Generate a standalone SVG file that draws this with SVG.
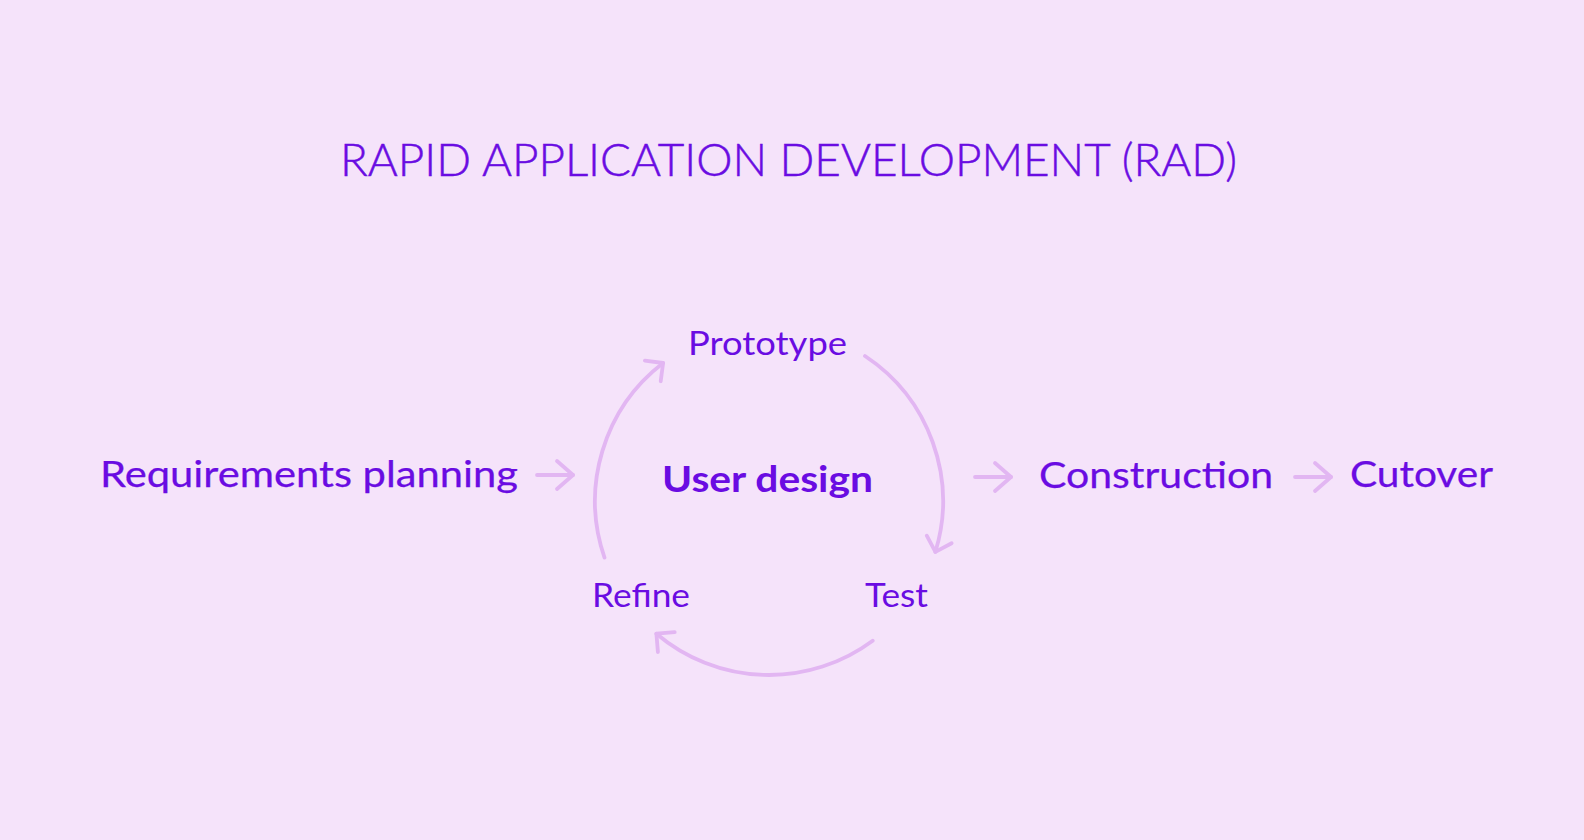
<svg xmlns="http://www.w3.org/2000/svg" width="1584" height="840" viewBox="0 0 1584 840">
  <style>
    .t { font-family: Lato, "Liberation Sans", sans-serif; fill: #6A0CE2; }
    .title { font-size: 46px; font-weight: 300; stroke: #6A0CE2; stroke-width: 0.5; }
    .main { font-size: 36px; font-weight: 400; stroke: #6A0CE2; stroke-width: 0.25; }
    .sub { font-size: 32px; font-weight: 400; }
    .bold { font-size: 37px; font-weight: 700; }
    .conn { fill: none; stroke: #E2B6F2; stroke-width: 3.8; stroke-linecap: round; stroke-linejoin: round; }
  </style>
  <defs>
    <marker id="headArc" markerUnits="userSpaceOnUse" viewBox="-16 -16 20 32" refX="0" refY="0" markerWidth="20" markerHeight="32" orient="auto" overflow="visible">
      <path d="M -13 -13 L 0 0 L -13 13" fill="none" stroke="#E2B6F2" stroke-width="3.8" stroke-linecap="round" stroke-linejoin="round"/>
    </marker>
    <marker id="headStraight" markerUnits="userSpaceOnUse" viewBox="-20 -17 24 34" refX="0" refY="0" markerWidth="24" markerHeight="34" orient="auto" overflow="visible">
      <path d="M -16 -14 L 0 0 L -16 14" fill="none" stroke="#E2B6F2" stroke-width="3.8" stroke-linecap="round" stroke-linejoin="round"/>
    </marker>
  </defs>
  <rect width="1584" height="840" fill="#F5E3FA"/>

  <g id="title">
    <text class="t title" x="340" y="176" textLength="897" lengthAdjust="spacingAndGlyphs">RAPID APPLICATION DEVELOPMENT (RAD)</text>
  </g>

  <g id="connectors">
    <path class="conn" d="M 537 475 L 573 475" marker-end="url(#headStraight)"/>
    <path class="conn" d="M 975 477 L 1011 477" marker-end="url(#headStraight)"/>
    <path class="conn" d="M 1295 477 L 1331 477" marker-end="url(#headStraight)"/>
    <path class="conn" d="M 865 356 A 174 174 0 0 1 935.4 551.9" marker-end="url(#headArc)"/>
    <path class="conn" d="M 872.7 640.7 A 174 174 0 0 1 656.4 633.7" marker-end="url(#headArc)"/>
    <path class="conn" d="M 604.5 557.6 A 174 174 0 0 1 663.1 363" marker-end="url(#headArc)"/>
  </g>

  <g id="node-requirements">
    <text class="t main" x="100" y="487" textLength="418" lengthAdjust="spacingAndGlyphs">Requirements planning</text>
  </g>
  <g id="node-user-design">
    <text class="t bold" x="662" y="492" textLength="211" lengthAdjust="spacingAndGlyphs">User design</text>
  </g>
  <g id="node-prototype">
    <text class="t sub" x="688" y="355" textLength="159" lengthAdjust="spacingAndGlyphs">Prototype</text>
  </g>
  <g id="node-test">
    <text class="t sub" x="865" y="607" textLength="63" lengthAdjust="spacingAndGlyphs">Test</text>
  </g>
  <g id="node-refine">
    <text class="t sub" x="592" y="607" textLength="98" lengthAdjust="spacingAndGlyphs">Refine</text>
  </g>
  <g id="node-construction">
    <text class="t main" x="1039" y="488" textLength="234" lengthAdjust="spacingAndGlyphs">Construction</text>
  </g>
  <g id="node-cutover">
    <text class="t main" x="1350" y="487" textLength="143" lengthAdjust="spacingAndGlyphs">Cutover</text>
  </g>
</svg>
